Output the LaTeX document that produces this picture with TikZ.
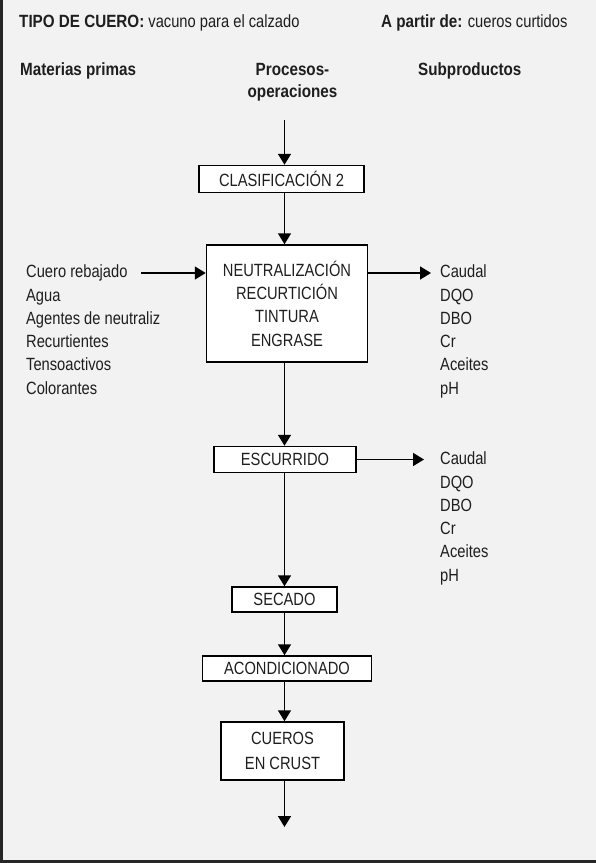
\documentclass[tikz,border=0pt]{standalone}
\usepackage{fontspec}
\setmainfont{Liberation Sans}[FakeStretch=0.83, BoldFeatures={FakeStretch=0.86}]
\usetikzlibrary{arrows.meta}
\definecolor{bggray}{HTML}{F2F2F2}
\definecolor{ink}{HTML}{1E1E1E}
\tikzset{
  base/.style={font=\fontsize{17.7}{23.3}\selectfont, text=ink, inner sep=0pt},
  lbl/.style={base, anchor=base west},
  hdr/.style={base, font=\fontsize{17.7}{22.5}\selectfont\bfseries},
  procbox/.style={base, draw=black, fill=white, line width=1.5pt, align=center},
  flow/.style={line width=1.6pt, draw=black, -{Triangle[length=11pt,width=13pt]}}
}
\begin{document}
\begin{tikzpicture}[x=1pt,y=-1pt]
\useasboundingbox (0,0) rectangle (596,863);
\fill[bggray] (0,0) rectangle (596,863);
\draw[line width=3pt, black!85] (1.5,0) -- (1.5,861.5) -- (596,861.5);

% headings
\node[lbl] (tipo) at (19,27.5) {\textbf{TIPO DE CUERO:} vacuno para el calzado};
\node[lbl] (partir) at (381,27.5) {\textbf{A partir de:} cueros curtidos};
\node[hdr, anchor=base west] (mat) at (20,75) {Materias primas};
\node[hdr, anchor=base] (proc) at (292.5,75) {Procesos-};
\node[hdr, anchor=base] (oper) at (292.5,97.5) {operaciones};
\node[hdr, anchor=base west] (sub) at (418,75) {Subproductos};

% process boxes
\coordinate (spine) at (284.5,0);
\coordinate (top) at (284.5,120);
\node[procbox, minimum width=165pt, minimum height=27pt] (clas) at (281.5,179) {CLASIFICACIÓN 2};
\node[procbox, minimum width=161pt, minimum height=117pt] (neut) at (287,303.5)
  {NEUTRALIZACIÓN\\RECURTICIÓN\\TINTURA\\ENGRASE};
\node[procbox, minimum width=142pt, minimum height=26pt] (esc) at (285,459.5) {ESCURRIDO};
\node[procbox, minimum width=105pt, minimum height=25pt] (sec) at (284.5,599.5) {SECADO};
\node[procbox, minimum width=169pt, minimum height=25pt] (acon) at (287,668.5) {ACONDICIONADO};
\node[procbox, minimum width=123pt, minimum height=58pt, font=\fontsize{17.7}{25}\selectfont] (crust) at (282.5,751) {CUEROS\\EN CRUST};
\coordinate (bottom) at (284.5,827);

% inputs
\node[lbl] (m1) at (26,277.7) {Cuero rebajado};
\node[lbl] (m2) at (26,301.0) {Agua};
\node[lbl] (m3) at (26,324.3) {Agentes de neutraliz};
\node[lbl] (m4) at (26,347.6) {Recurtientes};
\node[lbl] (m5) at (26,370.9) {Tensoactivos};
\node[lbl] (m6) at (26,394.2) {Colorantes};

% outputs 1
\node[lbl] (s1) at (440,277.7) {Caudal};
\node[lbl] (s2) at (440,301.0) {DQO};
\node[lbl] (s3) at (440,324.3) {DBO};
\node[lbl] (s4) at (440,347.6) {Cr};
\node[lbl] (s5) at (440,370.9) {Aceites};
\node[lbl] (s6) at (440,394.2) {pH};

% outputs 2
\node[lbl] (t1) at (440,464.7) {Caudal};
\node[lbl] (t2) at (440,488.0) {DQO};
\node[lbl] (t3) at (440,511.3) {DBO};
\node[lbl] (t4) at (440,534.6) {Cr};
\node[lbl] (t5) at (440,557.9) {Aceites};
\node[lbl] (t6) at (440,581.2) {pH};

% connectors
\coordinate (inA) at (141,273);
\coordinate (outA) at (431,273);
\coordinate (outB) at (424,459.5);
\draw[flow] (top) -- (clas.north -| spine);
\draw[flow] (clas.south -| spine) -- (neut.north -| spine);
\draw[flow] (neut.south -| spine) -- (esc.north -| spine);
\draw[flow] (esc.south -| spine) -- (sec.north -| spine);
\draw[flow] (sec.south -| spine) -- (acon.north -| spine);
\draw[flow] (acon.south -| spine) -- (crust.north -| spine);
\draw[flow] (crust.south -| spine) -- (bottom);
\draw[flow] (inA) -- (inA -| neut.west);
\draw[flow] (outA -| neut.east) -- (outA);
\draw[flow] (esc.east) -- (outB);
\end{tikzpicture}
\end{document}
